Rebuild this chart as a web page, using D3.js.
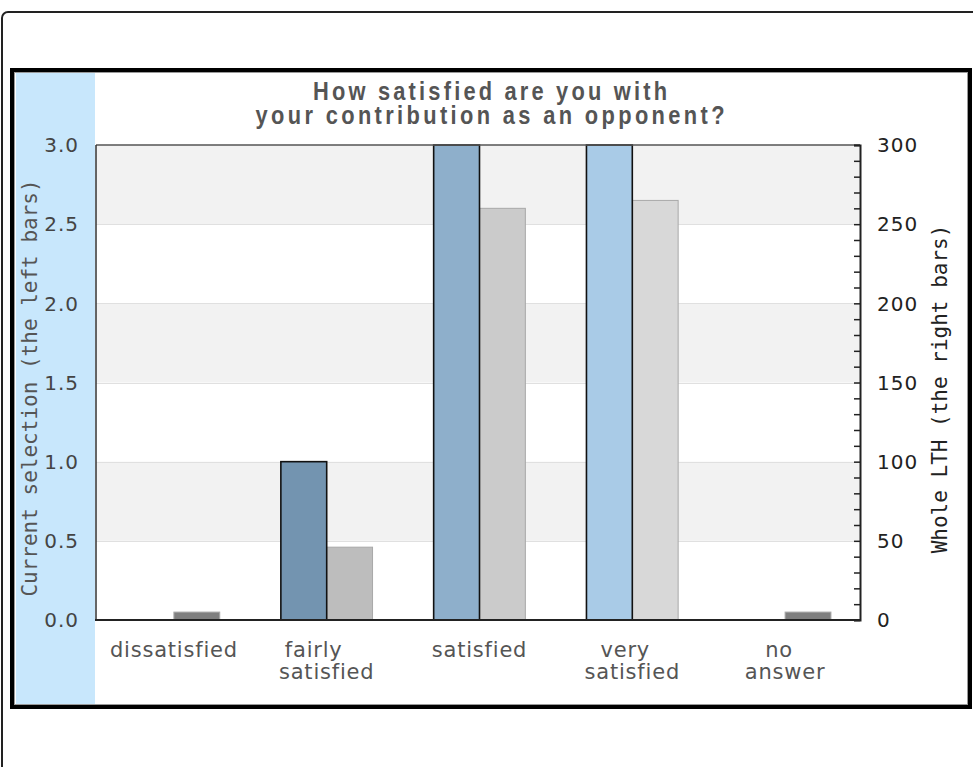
<!DOCTYPE html>
<html>
<head>
<meta charset="utf-8">
<script src="https://cdn.jsdelivr.net/npm/d3@7"></script>
<style>
  body { margin: 0; background: #fff; }
</style>
</head>
<body>
<div id="chart"></div>
<script>
// chart data
const categories = ['dissatisfied', 'fairly satisfied', 'satisfied', 'very satisfied', 'no answer'];
const labelLines = [['dissatisfied'], ['fairly', 'satisfied'], ['satisfied'], ['very', 'satisfied'], ['no', 'answer']];
const currentValues = [0, 1, 3, 3, 0];        // left bars, left axis
const wholeValues = [5, 46, 260, 265, 5];     // right bars, right axis
const currentColors = ['#7394b0', '#7394b0', '#8eafcb', '#a9cbe7', '#7394b0'];
const wholeColors = ['#7f7f7f', '#bdbdbd', '#cbcbcb', '#d8d8d8', '#7f7f7f'];
const leftTicks = [0, 0.5, 1, 1.5, 2, 2.5, 3];
const rightTicks = [0, 50, 100, 150, 200, 250, 300];
const titleLines = ['How satisfied are you with', 'your contribution as an opponent?'];

// layout
const width = 973;
const height = 767;
const plot = { left: 96, right: 860, top: 145, bottom: 620 };
const firstLineShift = [0, -13, 0, -7, -6];

const svg = d3.select('#chart')
  .append('svg')
  .attr('width', width)
  .attr('height', height);

// outer rounded border
svg.append('rect')
  .attr('x', 2).attr('y', 12)
  .attr('width', 1000).attr('height', 800)
  .attr('rx', 6)
  .attr('fill', 'none')
  .attr('stroke', '#222')
  .attr('stroke-width', 2);

// inner frame
svg.append('rect')
  .attr('x', 12).attr('y', 70)
  .attr('width', 958).attr('height', 637)
  .attr('fill', '#fff')
  .attr('stroke', '#000')
  .attr('stroke-width', 4);
svg.append('rect')
  .attr('x', 14.5).attr('y', 72.5)
  .attr('width', 953).attr('height', 632)
  .attr('fill', 'none')
  .attr('stroke', '#999')
  .attr('stroke-width', 1);

// light blue strip on the left
svg.append('rect')
  .attr('x', 16).attr('y', 73)
  .attr('width', 79).attr('height', 631)
  .attr('fill', '#c8e7fc');

// scales
const x = d3.scaleBand()
  .domain(categories)
  .range([plot.left + 1.5, plot.right + 1.5])
  .paddingInner(0.4)
  .paddingOuter(0.2);

const xSub = d3.scaleBand()
  .domain(['current', 'whole'])
  .range([0, x.bandwidth()]);

const yLeft = d3.scaleLinear().domain([0, 3]).range([plot.bottom, plot.top]);
const yRight = d3.scaleLinear().domain([0, 300]).range([plot.bottom, plot.top]);

// background bands
const bands = d3.range(leftTicks.length - 1).filter(i => i % 2 === 1);
svg.append('g')
  .selectAll('rect')
  .data(bands)
  .enter()
  .append('rect')
  .attr('x', plot.left)
  .attr('width', plot.right - plot.left)
  .attr('y', i => yLeft(leftTicks[i + 1]))
  .attr('height', i => yLeft(leftTicks[i]) - yLeft(leftTicks[i + 1]))
  .attr('fill', '#f2f2f2');

// gridlines
svg.append('g')
  .selectAll('line')
  .data(leftTicks.slice(1, -1))
  .enter()
  .append('line')
  .attr('x1', plot.left).attr('x2', plot.right)
  .attr('y1', d => Math.round(yLeft(d)) + 0.5)
  .attr('y2', d => Math.round(yLeft(d)) + 0.5)
  .attr('stroke', '#e0e0e0');

// right bars (whole LTH)
svg.append('g')
  .selectAll('rect')
  .data(categories)
  .enter()
  .append('rect')
  .attr('x', d => x(d) + xSub('whole'))
  .attr('width', xSub.bandwidth())
  .attr('y', (d, i) => yRight(wholeValues[i]))
  .attr('height', (d, i) => plot.bottom - yRight(wholeValues[i]))
  .attr('fill', (d, i) => wholeColors[i])
  .attr('stroke', '#a8a8a8')
  .attr('stroke-width', 1);

// left bars (current selection)
svg.append('g')
  .selectAll('rect')
  .data(categories.filter((d, i) => currentValues[i] > 0))
  .enter()
  .append('rect')
  .attr('x', d => x(d) + xSub('current'))
  .attr('width', xSub.bandwidth())
  .attr('y', d => yLeft(currentValues[categories.indexOf(d)]))
  .attr('height', d => plot.bottom - yLeft(currentValues[categories.indexOf(d)]))
  .attr('fill', d => currentColors[categories.indexOf(d)])
  .attr('stroke', '#111')
  .attr('stroke-width', 1.6);

// frame lines
svg.append('line')
  .attr('x1', plot.left).attr('x2', plot.right)
  .attr('y1', plot.top).attr('y2', plot.top)
  .attr('stroke', '#555').attr('stroke-width', 1.5);
svg.append('line')
  .attr('x1', plot.left).attr('x2', plot.left)
  .attr('y1', plot.top).attr('y2', plot.bottom)
  .attr('stroke', '#333').attr('stroke-width', 1.5);

// right axis with minor ticks every 10
const rightAxis = d3.axisRight(yRight)
  .tickValues(d3.range(0, 301, 10))
  .tickSize(-6)
  .tickFormat('');
const ra = svg.append('g')
  .attr('transform', `translate(${plot.right},0)`)
  .call(rightAxis);
ra.select('.domain').attr('stroke', '#222').attr('stroke-width', 2);
ra.selectAll('.tick line').attr('stroke', '#222').attr('stroke-width', 1.5);

// bottom axis line
svg.append('line')
  .attr('x1', plot.left - 1).attr('x2', plot.right + 1)
  .attr('y1', plot.bottom).attr('y2', plot.bottom)
  .attr('stroke', '#222').attr('stroke-width', 2);

// tick labels
svg.append('g')
  .selectAll('text')
  .data(leftTicks)
  .enter()
  .append('text')
  .attr('x', 79)
  .attr('y', d => yLeft(d))
  .attr('dy', '0.36em')
  .attr('text-anchor', 'end')
  .attr('font-family', 'DejaVu Sans')
  .attr('font-size', 20)
  .attr('letter-spacing', 1)
  .attr('fill', '#444')
  .text(d3.format('.1f'));

svg.append('g')
  .selectAll('text')
  .data(rightTicks)
  .enter()
  .append('text')
  .attr('x', 877)
  .attr('y', d => yRight(d))
  .attr('dy', '0.36em')
  .attr('text-anchor', 'start')
  .attr('font-family', 'DejaVu Sans')
  .attr('font-size', 20)
  .attr('letter-spacing', 1)
  .attr('fill', '#222')
  .text(d => d);

// category labels
const catLabels = svg.append('g')
  .selectAll('text')
  .data(categories)
  .enter()
  .append('text')
  .attr('font-family', 'DejaVu Sans')
  .attr('font-size', 21)
  .attr('letter-spacing', 0.8)
  .attr('text-anchor', 'middle')
  .attr('fill', '#555');

catLabels.each(function (d, i) {
  const cx = x(d) + x.bandwidth() / 2;
  labelLines[i].forEach((line, j) => {
    d3.select(this).append('tspan')
      .attr('x', cx + (j === 0 && labelLines[i].length > 1 ? firstLineShift[i] : 0))
      .attr('y', 657 + j * 22)
      .text(line);
  });
});

// axis titles
svg.append('text')
  .attr('transform', 'translate(37,388) rotate(-90)')
  .attr('text-anchor', 'middle')
  .attr('font-family', 'DejaVu Sans Mono')
  .attr('font-size', 21)
  .attr('fill', '#555')
  .text('Current selection (the left bars)');

svg.append('text')
  .attr('transform', 'translate(947,389) rotate(-90)')
  .attr('text-anchor', 'middle')
  .attr('font-family', 'DejaVu Sans Mono')
  .attr('font-size', 21)
  .attr('fill', '#222')
  .text('Whole LTH (the right bars)');

// title: tall bold glyphs, squeezed horizontally
const titleWidths = [354, 469];
const squeeze = 0.84;
svg.append('g')
  .selectAll('text')
  .data(titleLines)
  .enter()
  .append('text')
  .attr('transform', (d, i) => `translate(490,${100 + i * 24}) scale(${squeeze},1)`)
  .attr('text-anchor', 'middle')
  .attr('font-family', 'Liberation Sans, Arial, sans-serif')
  .attr('font-weight', 'bold')
  .attr('font-size', 26)
  .attr('textLength', (d, i) => titleWidths[i] / squeeze)
  .attr('lengthAdjust', 'spacing')
  .attr('fill', '#555')
  .text(d => d);
</script>
</body>
</html>
